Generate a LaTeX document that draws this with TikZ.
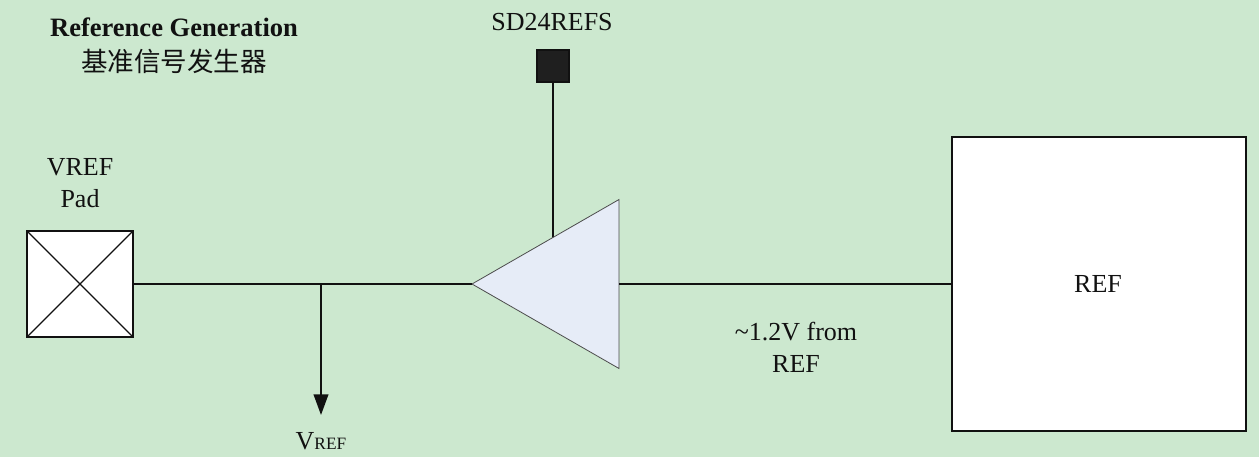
\documentclass[tikz,border=0pt]{standalone}
\usepackage{fontspec}
\setmainfont{Liberation Serif}
\newfontfamily\cjk{Noto Sans CJK SC}
\usetikzlibrary{shapes.geometric,arrows.meta}
\definecolor{bgc}{HTML}{CCE8CF}
\definecolor{inkc}{HTML}{111111}
\definecolor{tric}{HTML}{E6ECF7}
\tikzset{
  px/.style={x=0.75pt,y=-0.75pt},
  wire/.style={draw=inkc,line width=1.4pt},
  lbl/.style={text=inkc,inner sep=0pt,anchor=base,font=\fontsize{19.5}{23}\selectfont},
  whitebox/.style={draw=inkc,fill=white,line width=1.1pt,inner sep=0pt,outer sep=0pt},
}
\begin{document}
\begin{tikzpicture}[px]
\path[use as bounding box,fill=bgc] (0,0) rectangle (1259,457);
% nodes
\node[whitebox,minimum width=79.5pt,minimum height=79.5pt] (pad) at (80,284) {};
\draw[inkc,line width=1pt] (pad.north west) -- (pad.south east) (pad.north east) -- (pad.south west);
\node[whitebox,minimum width=220.5pt,minimum height=220.5pt] (refbox) at (1099,284) {};
\node[draw=inkc,fill=black!88,line width=1pt,inner sep=0pt,outer sep=0pt,minimum size=24pt] (ctl) at (553,66) {};
\coordinate (tap) at (321,284);
\coordinate (vout) at (321,415);
\coordinate (en) at (553,284);
% connectors under the triangle
\draw[wire] (ctl.south) -- (en);
\node[isosceles triangle,isosceles triangle stretches,shape border rotate=180,draw=black!70,line width=0.6pt,fill=tric,inner sep=0pt,outer sep=0pt,minimum width=126.75pt,minimum height=110.25pt,anchor=apex] (tri) at (472,284) {};
\draw[wire] (pad.east) -- (tri.apex);
\draw[wire] (tri.lower side) -- (refbox.west);
\draw[wire,-{Triangle[length=15.5pt,width=11pt,inkc]}] (tap) -- (vout);
% labels
\node[lbl,font=\fontsize{19.9}{23}\selectfont\bfseries] (t1) at (174,36) {Reference Generation};
\node[lbl,font=\fontsize{19.9}{23}\selectfont\cjk] (t2) at (174,71) {基准信号发生器};
\node[lbl] (t3) at (552,30) {SD24REFS};
\node[lbl] (t4) at (80,175) {VREF};
\node[lbl] (t5) at (80,207) {Pad};
\node[lbl] (t6) at (1098,292) {REF};
\node[lbl] (t7) at (796,340) {\textasciitilde1.2V from};
\node[lbl] (t8) at (796,372) {REF};
\node[lbl] (t9) at (321,449) {V{\fontsize{13}{15}\selectfont REF}};
\end{tikzpicture}
\end{document}
